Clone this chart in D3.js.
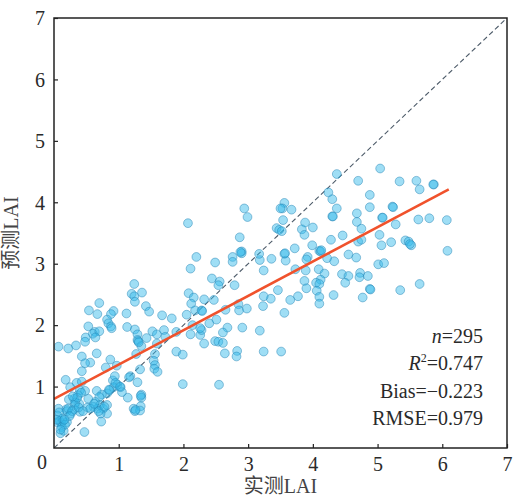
<!DOCTYPE html>
<html>
<head>
<meta charset="utf-8">
<script src="https://cdn.jsdelivr.net/npm/d3@7"></script>
<style>
  body { margin: 0; background: #fff; }
  text { font-family: "Liberation Serif", "Times New Roman", "Noto Sans CJK SC", serif; }
</style>
</head>
<body>
<svg id="chart"></svg>
<script>
// measured vs predicted LAI, [measured, predicted]
const samples = [
  [4.37,4.46],[5.04,4.55],[4.70,4.35],[5.34,4.34],[5.60,4.35],[5.65,4.21],[5.87,4.29],[4.24,4.16],[4.30,4.05],[4.37,3.90],
  [4.88,4.12],[4.88,3.92],[5.23,3.93],[4.68,3.82],[4.30,3.77],[5.07,3.75],[5.63,3.72],[5.80,3.74],[6.07,3.71],[4.68,3.68],
  [4.75,3.57],[5.28,3.64],[5.03,3.47],[4.46,3.46],[4.28,3.39],[4.70,3.36],[4.75,3.39],[5.06,3.30],[5.21,3.35],[5.43,3.38],
  [5.48,3.36],[5.52,3.30],[6.08,3.21],[4.55,3.15],[4.67,3.10],[4.22,3.09],[4.33,3.04],[5.01,2.99],[5.10,3.01],[4.45,2.83],
  [4.55,2.80],[4.50,2.69],[4.73,2.85],[4.72,2.78],[4.85,2.80],[4.88,2.59],[4.77,2.45],[4.32,2.49],[5.35,2.57],[5.65,2.67],
  [3.56,3.99],[3.53,3.90],[3.67,3.88],[3.54,3.71],[3.44,3.58],[3.48,3.55],[3.52,3.53],[3.88,3.67],[3.83,3.56],[3.87,3.47],
  [4.00,3.59],[3.99,3.30],[4.10,3.21],[4.12,3.20],[3.56,3.16],[3.58,3.05],[3.72,3.25],[3.92,3.11],[3.90,3.07],[3.36,3.08],
  [3.73,2.91],[3.89,2.89],[4.09,2.91],[4.18,2.84],[4.12,2.74],[3.87,2.72],[4.05,2.69],[4.10,2.67],[3.90,2.60],[4.06,2.56],
  [4.10,2.46],[4.10,2.35],[3.77,2.47],[3.65,2.41],[3.46,2.57],[3.35,2.43],[3.56,2.20],[3.51,1.57],[3.24,2.47],[3.23,2.31],
  [3.24,2.89],[3.18,3.06],[3.17,3.16],[3.18,1.91],[3.24,1.57],
  [2.94,3.90],[2.99,3.76],[2.87,3.43],[2.90,3.20],[2.90,3.17],[2.76,3.11],[2.76,3.03],[2.49,3.02],[2.79,2.65],[2.44,2.76],
  [2.56,2.71],[2.54,2.65],[2.32,2.42],[2.47,2.41],[2.85,2.34],[2.86,2.24],[2.98,2.27],[2.65,2.25],[2.40,2.03],[2.51,2.09],
  [2.68,1.96],[2.61,1.88],[2.91,1.96],[2.49,1.74],[2.54,1.73],[2.61,1.71],[2.64,1.54],[2.83,1.58],[2.82,1.49],[2.55,1.03],
  [2.26,1.84],[2.28,1.92],
  [2.07,3.66],[2.20,3.11],[2.11,2.92],[2.08,2.52],[2.16,2.45],[2.12,2.35],[2.18,2.24],[2.28,2.24],[2.05,2.17],[2.14,2.00],
  [2.11,1.85],[2.32,1.70],[1.89,1.89],[1.82,2.11],[1.67,2.16],[1.89,1.57],[1.99,1.52],[1.99,1.04],[2.26,1.95],
  [1.24,2.67],[1.20,2.51],[1.24,2.47],[1.25,2.38],[1.36,2.53],[1.42,2.31],[1.47,2.22],[1.12,2.19],[1.13,1.97],[1.25,1.93],
  [1.29,1.85],[1.29,1.76],[1.30,1.74],[1.35,1.66],[1.43,1.79],[1.52,1.90],[1.59,1.85],[1.70,1.92],[1.72,1.81],[1.59,1.70],
  [1.56,1.53],[1.54,1.42],[1.56,1.35],[1.55,1.29],[1.60,1.24],[1.27,1.53],[1.33,1.28],[1.18,1.17],[1.16,1.15],[1.29,1.07],
  [1.35,0.87],[1.35,0.82],[1.23,0.64],[1.25,0.60],[1.34,0.68],[1.33,0.61],[1.14,0.82],
  [0.70,2.36],[0.54,2.24],[0.67,2.18],[0.92,2.23],[0.88,2.18],[0.82,2.09],[0.84,2.03],[0.88,1.98],[0.89,1.95],[0.53,1.98],
  [0.63,1.89],[0.60,1.86],[0.70,1.90],[0.64,1.80],[0.49,1.80],[0.48,1.73],[0.66,1.54],[0.43,1.49],[0.56,1.39],[0.48,1.38],
  [0.43,1.25],[0.87,1.44],[0.80,1.31],[0.97,1.34],[0.91,1.10],[0.94,1.17],[0.98,1.03],[1.03,0.99],[1.05,0.91],[0.92,0.99],
  [0.86,0.94],[0.82,0.89],[0.74,0.87],[0.66,0.93],[0.70,0.83],[0.64,0.75],[0.71,0.70],[0.67,0.64],[0.76,0.64],[0.82,0.70],
  [0.82,0.56],[0.72,0.56],[0.73,0.43],[0.61,0.67],[0.53,0.80],[0.52,0.66],[0.47,0.26],[0.40,0.59],[0.39,0.72],
  [0.07,1.65],[0.22,1.62],[0.34,1.67],[0.18,1.11],[0.25,0.99],[0.35,1.06],[0.43,1.08],[0.40,0.94],[0.48,0.93],[0.37,0.86],
  [0.31,0.80],[0.23,0.79],[0.32,0.70],[0.31,0.63],[0.19,0.63],[0.20,0.60],[0.26,0.56],[0.07,0.64],[0.05,0.53],[0.09,0.44],
  [0.11,0.41],[0.14,0.44],[0.20,0.42],[0.05,0.42],[0.12,0.34],[0.10,0.24],[0.15,0.28],
  [0.08,0.58],[0.13,0.48],[0.17,0.38],[0.22,0.64],[0.28,0.60],[0.33,0.74],[0.36,0.82],[0.42,0.90],[0.38,0.66],[0.45,0.60],
  [0.10,0.30],[0.04,0.46],[0.24,0.52],[0.29,0.84],[0.56,0.64],[0.62,0.72],[0.69,0.60],[0.78,0.67],[0.85,0.95],[0.95,1.06],
  [1.02,1.00],[1.26,0.62],[1.34,0.85],[2.88,3.19],[3.57,3.17],[4.31,3.77],[5.08,3.75],[5.24,3.92],[5.86,4.29],[5.50,3.32],
  [4.89,2.58],[2.29,2.23],[3.50,3.90],[4.13,3.22],[0.16,0.46],[1.31,1.72]
];

// fitted line end points
const fitX = [0, 6.1];
const fitY = [0.80, 4.21];

const xTicks = [1, 2, 3, 4, 5, 6, 7];
const yTicks = [1, 2, 3, 4, 5, 6, 7];
const statLines = ['n', 'R', 'Bias=\u22120.223', 'RMSE=0.979'];

const W = 516, H = 496;
const margin = {top: 18, right: 9, bottom: 48, left: 54};
const width = W - margin.left - margin.right;
const height = H - margin.top - margin.bottom;

const svg = d3.select('#chart').attr('width', W).attr('height', H);

const x = d3.scaleLinear().domain([0, 7]).range([0, width]);
const y = d3.scaleLinear().domain([0, 7]).range([height, 0]);

const g = svg.append('g')
  .attr('transform', `translate(${margin.left},${margin.top})`);

g.append('clipPath').attr('id', 'plot-clip')
  .append('rect').attr('width', width).attr('height', height);

const plot = g.append('g').attr('clip-path', 'url(#plot-clip)');

// 1:1 line
plot.append('line')
  .attr('x1', x(0)).attr('y1', y(0))
  .attr('x2', x(7)).attr('y2', y(7))
  .attr('stroke', '#4d5b69')
  .attr('stroke-width', 1.1)
  .attr('stroke-dasharray', '5,3');

plot.selectAll('circle.pt')
  .data(samples)
  .enter().append('circle')
  .attr('class', 'pt')
  .attr('cx', d => x(d[0]))
  .attr('cy', d => y(d[1]))
  .attr('r', 4.4)
  .attr('fill', 'rgb(55,185,235)')
  .attr('fill-opacity', 0.48)
  .attr('stroke', 'rgb(35,130,180)')
  .attr('stroke-opacity', 0.6)
  .attr('stroke-width', 0.8);

plot.append('line')
  .attr('x1', x(fitX[0])).attr('y1', y(fitY[0]))
  .attr('x2', x(fitX[1])).attr('y2', y(fitY[1]))
  .attr('stroke', '#f0522c')
  .attr('stroke-width', 2.6);

// axes, ticks pointing inward
const xAxis = d3.axisBottom(x).tickValues(xTicks).tickFormat(d3.format('d'))
  .tickSizeInner(-4).tickSizeOuter(0).tickPadding(9);
const yAxis = d3.axisLeft(y).tickValues(yTicks).tickFormat(d3.format('d'))
  .tickSizeInner(-4).tickSizeOuter(0).tickPadding(9);

const xg = g.append('g').attr('transform', `translate(0,${height})`).call(xAxis);
const yg = g.append('g').call(yAxis);

[xg, yg].forEach(a => {
  a.select('.domain').remove();
  a.selectAll('line').attr('stroke', '#222').attr('stroke-width', 1.2);
  a.selectAll('text').attr('font-size', 20).attr('fill', '#2a2a2a')
    .style('font-family', '"Liberation Serif", serif');
});
yg.selectAll('text').attr('dy', '0.34em');

g.append('text')
  .attr('x', -12).attr('y', height + 21)
  .attr('font-size', 20).attr('fill', '#2a2a2a')
  .attr('text-anchor', 'middle')
  .text('0');

// frame
g.append('rect')
  .attr('width', width).attr('height', height)
  .attr('fill', 'none')
  .attr('stroke', '#222')
  .attr('stroke-width', 1.5);

// axis titles
g.append('text')
  .attr('x', width / 2).attr('y', height + 45)
  .attr('text-anchor', 'middle')
  .attr('font-size', 20).attr('fill', '#444')
  .text('实测LAI');

g.append('text')
  .attr('transform', `translate(${-36},${height / 2}) rotate(-90)`)
  .attr('text-anchor', 'middle')
  .attr('font-size', 20).attr('fill', '#444')
  .text('预测LAI');

// statistics
const stats = g.append('g').attr('font-size', 20).attr('fill', '#2a2a2a').attr('text-anchor', 'end');
const sx = 429;
const n1 = stats.append('text').attr('x', sx).attr('y', 325);
n1.append('tspan').attr('font-style', 'italic').text('n');
n1.append('tspan').text('=295');
const r2 = stats.append('text').attr('x', sx).attr('y', 352);
r2.append('tspan').attr('font-style', 'italic').text('R');
r2.append('tspan').attr('font-size', 12).attr('dy', -8).text('2');
r2.append('tspan').attr('dy', 8).text('=0.747');
stats.append('text').attr('x', sx).attr('y', 380).text(statLines[2]);
stats.append('text').attr('x', sx).attr('y', 407).text(statLines[3]);
</script>
</body>
</html>
